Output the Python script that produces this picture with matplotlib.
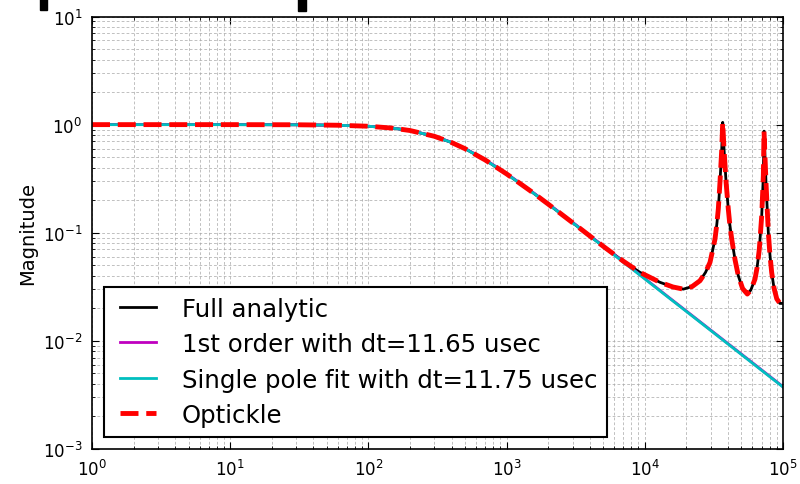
import matplotlib
matplotlib.use("Agg")
import matplotlib.pyplot as plt
from matplotlib.patches import Rectangle
from matplotlib.legend_handler import HandlerLine2D

# Frequency points (Hz) for the smooth single-pole style curves
f_pole = [1, 10, 30, 60, 100, 150, 200, 300, 400, 500, 700, 1000, 1500, 2000,
          3000, 5000, 7000, 10000, 15000, 20000, 30000, 50000, 70000, 100000]

# 1st order response, dt = 11.65 usec
mag_first_order = [1.0, 1.0, 0.997, 0.987, 0.966, 0.929, 0.883, 0.782, 0.686,
                   0.603, 0.475, 0.353, 0.244, 0.1857, 0.1251, 0.0755, 0.0539,
                   0.03775, 0.02513, 0.01887, 0.01258, 0.00755, 0.00539, 0.00377]

# Single pole fit, dt = 11.75 usec
mag_single_pole = [1.0, 1.0, 0.997, 0.987, 0.966, 0.928, 0.882, 0.780, 0.683,
                   0.599, 0.471, 0.350, 0.242, 0.184, 0.124, 0.0746, 0.0534,
                   0.0374, 0.0249, 0.0187, 0.01247, 0.00748, 0.00534, 0.00374]

# Full cavity response (analytic and Optickle agree)
f_full = [1, 10, 30, 60, 100, 150, 200, 300, 400, 500, 700, 1000, 1500, 2000,
          3000, 5000, 7000, 9230, 12880, 16000, 19000, 22000, 25080, 27500,
          29630, 30900, 32210, 33200, 34040, 35000, 36040, 36620, 37430, 38730,
          40190, 41200, 42540, 45000, 47500, 51000, 55190, 58500, 62710, 65000,
          67400, 70150, 72060, 72880, 75340, 78300, 80500, 82800, 86000, 90100,
          95000, 100000]
mag_full = [1.0, 1.0, 0.997, 0.987, 0.966, 0.928, 0.882, 0.780, 0.683, 0.599,
            0.471, 0.350, 0.242, 0.184, 0.124, 0.0750, 0.0545, 0.0430, 0.0348,
            0.0315, 0.0301, 0.0318, 0.0360, 0.0430, 0.0532, 0.068, 0.0875,
            0.120, 0.166, 0.294, 0.594, 1.05, 0.594, 0.294, 0.166, 0.120,
            0.0875, 0.056, 0.040, 0.0305, 0.0271, 0.0295, 0.0373, 0.048,
            0.0706, 0.144, 0.337, 0.87, 0.292, 0.101, 0.062, 0.043, 0.031,
            0.0245, 0.0222, 0.0222]

labels = ["Full analytic", "1st order with dt=11.65 usec",
          "Single pole fit with dt=11.75 usec", "Optickle"]


class InsetLineHandler(HandlerLine2D):
    """Legend line handle drawn with a small indent from the left."""
    shift = 4.0  # points

    def create_artists(self, legend, orig_handle, xdescent, ydescent, width,
                       height, fontsize, trans):
        return super().create_artists(legend, orig_handle,
                                      xdescent - self.shift, ydescent,
                                      width - self.shift, height, fontsize,
                                      trans)


fig = plt.figure(figsize=(8.0, 4.85), dpi=100)
ax = fig.add_axes([92 / 800, 1 - 450 / 485, (783 - 92) / 800, (450 - 17.5) / 485])

l1, = ax.loglog(f_full, mag_full, color="k", lw=2.0, label=labels[0])
l2, = ax.loglog(f_pole, mag_first_order, color=(0.75, 0, 0.75), lw=2.0, label=labels[1])
l3, = ax.loglog(f_pole, mag_single_pole, color=(0, 0.75, 0.75), lw=2.0, label=labels[2])
l4, = ax.loglog(f_full, mag_full, color="r", lw=3.5, ls="--", label=labels[3])

ax.set_xlim(1, 1e5)
ax.set_ylim(1e-3, 1e1)
ax.set_ylabel("Magnitude", fontsize=14)

ax.grid(True, which="both", color="0.65", ls=(0, (4, 3)), lw=0.5)
ax.set_axisbelow(True)
ax.tick_params(which="both", direction="in", top=True, right=True, labelsize=12)
ax.tick_params(which="major", length=5, pad=7)
ax.tick_params(which="minor", length=2.5)
for s in ax.spines.values():
    s.set_linewidth(1.2)

handler = InsetLineHandler()
leg = ax.legend(loc="lower left", fontsize=17.6, handlelength=1.72,
                handletextpad=1.05, fancybox=False, framealpha=1,
                borderaxespad=0.5, borderpad=0.4, labelspacing=0.47,
                handler_map={l: handler for l in (l1, l2, l3, l4)})
leg.get_frame().set_edgecolor("k")
leg.get_frame().set_linewidth(1.5)

# Two small dark marks along the top edge
fig.add_artist(Rectangle((40 / 800, 1 - 11 / 485), 7 / 800, 11 / 485,
                         transform=fig.transFigure, color="k"))
fig.add_artist(Rectangle((298 / 800, 1 - 12 / 485), 8 / 800, 12 / 485,
                         transform=fig.transFigure, color="k"))

fig.savefig("out.png", dpi=100)
